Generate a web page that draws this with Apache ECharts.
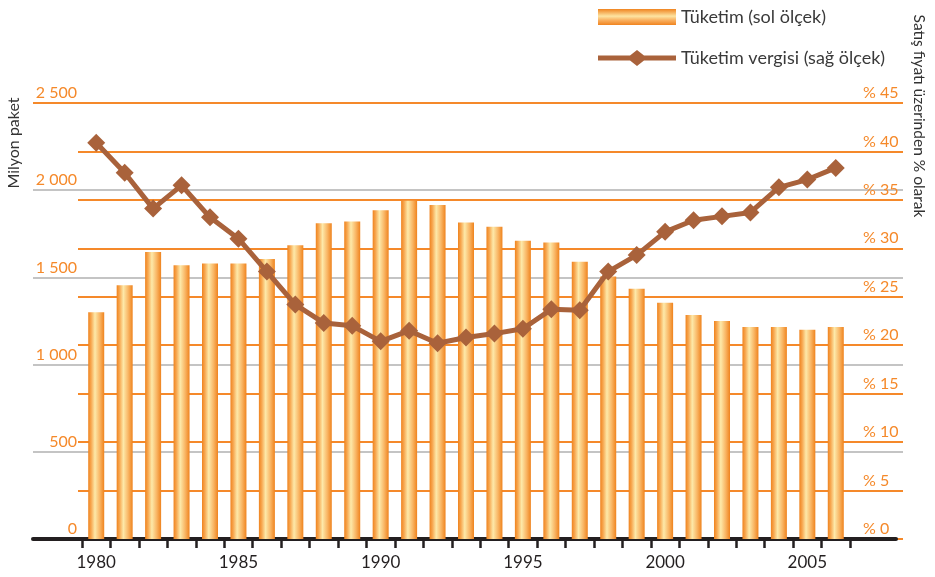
<!DOCTYPE html>
<html>
<head>
<meta charset="utf-8">
<script src="https://cdn.jsdelivr.net/npm/echarts@6/dist/echarts.min.js"></script>
<style>
  html, body { margin: 0; padding: 0; background: #fff; }
  #chart { width: 935px; height: 577px; }
</style>
</head>
<body>
<div id="chart"></div>
<script>
const years = ['1980', '1981', '1982', '1983', '1984', '1985', '1986', '1987', '1988', '1989',
  '1990', '1991', '1992', '1993', '1994', '1995', '1996', '1997', '1998', '1999',
  '2000', '2001', '2002', '2003', '2004', '2005', '2006'];
// million packs (left scale)
const consumption = [1300, 1455, 1645, 1570, 1580, 1580, 1605, 1685, 1810, 1820,
  1885, 1940, 1915, 1815, 1790, 1710, 1700, 1590, 1505, 1435,
  1355, 1285, 1250, 1215, 1215, 1200, 1215];
// % of retail price (right scale)
const taxShare = [40.9, 37.8, 34.1, 36.5, 33.2, 31.0, 27.6, 24.2, 22.3, 22.0,
  20.4, 21.5, 20.2, 20.8, 21.2, 21.7, 23.7, 23.6, 27.6, 29.3,
  31.7, 32.9, 33.3, 33.7, 36.3, 37.1, 38.3];
const leftScale = [0, 2500, 500];
const rightScale = [0, 45, 5];

const FONT = 'Lato';
const ORANGE = '#f5892a';
const GRAY = '#c4c4c4';
const BROWN = '#a9623b';

const gridTop = 103, gridBottom = 38;

let chart = echarts.init(document.getElementById('chart'), null, {renderer: 'canvas'});

const barColor = new echarts.graphic.LinearGradient(0, 0, 1, 0, [
  {offset: 0, color: '#ef831e'},
  {offset: 0.18, color: '#f7a750'},
  {offset: 0.42, color: '#fde9a9'},
  {offset: 0.72, color: '#f9b665'},
  {offset: 1, color: '#ef831e'}
]);
const legendBarColor = new echarts.graphic.LinearGradient(0, 0, 0, 1, [
  {offset: 0, color: '#f08420'},
  {offset: 0.45, color: '#fde4a2'},
  {offset: 0.7, color: '#f9b060'},
  {offset: 1, color: '#f08420'}
]);
// thick line with a diamond in the middle, 78 x 16
const lineIcon = 'path://M0,5.5 L32,5.5 L39,0 L46,5.5 L78,5.5 L78,10.5 L46,10.5 L39,16 L32,10.5 L0,10.5 Z';

function spaced(v) {
  return String(v).replace(/\B(?=(\d{3})+$)/, ' ');
}

let option = {
  animation: false,
  textStyle: {fontFamily: FONT},
  legend: {
    orient: 'vertical',
    left: 593,
    top: 3,
    itemWidth: 78,
    itemHeight: 16,
    itemGap: 23,
    textStyle: {fontSize: 18, color: '#3a3a3a', fontFamily: FONT},
    data: [
      {name: 'Tüketim (sol ölçek)', icon: 'rect', itemStyle: {color: legendBarColor}},
      {name: 'Tüketim vergisi (sağ ölçek)', icon: lineIcon, itemStyle: {color: BROWN}}
    ]
  },
  grid: [
    {left: 33, right: 32, top: gridTop, bottom: gridBottom},
    {left: 78, right: 32, top: gridTop, bottom: gridBottom},
    {left: 33, right: 39, top: gridTop, bottom: gridBottom},
    {left: 82, right: 85, top: gridTop, bottom: gridBottom}
  ],
  xAxis: [
    {gridIndex: 0, type: 'value', min: 0, max: 1, show: false},
    {gridIndex: 1, type: 'value', min: 0, max: 1, show: false},
    {
      gridIndex: 2, type: 'value', min: 0, max: 1,
      axisLine: {show: true, lineStyle: {color: '#231f20', width: 4}},
      axisTick: {show: false}, axisLabel: {show: false}, splitLine: {show: false}
    },
    {
      gridIndex: 3, type: 'category', data: years,
      axisLine: {show: false},
      axisTick: {show: true, interval: 0, length: 9, lineStyle: {color: '#231f20', width: 2.5}},
      axisLabel: {interval: 4, margin: 15, color: '#231f20', fontSize: 17, fontFamily: FONT}
    }
  ],
  yAxis: [
    {
      gridIndex: 0, type: 'value', position: 'left',
      min: leftScale[0], max: leftScale[1], interval: leftScale[2],
      axisLine: {show: false}, axisTick: {show: false},
      splitLine: {lineStyle: {color: [GRAY, GRAY, GRAY, GRAY, GRAY, ORANGE], width: 2}},
      axisLabel: {
        inside: true, margin: 44, align: 'right', verticalAlign: 'bottom',
        padding: [0, 0, 2, 0], color: ORANGE, fontSize: 16, fontFamily: FONT,
        formatter: spaced
      }
    },
    {
      gridIndex: 1, type: 'value', position: 'right',
      min: rightScale[0], max: rightScale[1], interval: rightScale[2],
      axisLine: {show: false}, axisTick: {show: false},
      splitLine: {lineStyle: {color: ORANGE, width: 2}},
      axisLabel: {
        inside: true, margin: 40, align: 'left', verticalAlign: 'bottom',
        padding: [0, 0, 2, 0], color: ORANGE, fontSize: 16, fontFamily: FONT,
        formatter: '% {value}'
      }
    },
    {gridIndex: 2, type: 'value', min: 0, max: 1, show: false},
    {gridIndex: 3, type: 'value', min: leftScale[0], max: leftScale[1], show: false},
    {gridIndex: 3, type: 'value', min: rightScale[0], max: rightScale[1], show: false}
  ],
  graphic: [
    {
      type: 'text', x: 14, y: 143, rotation: Math.PI / 2,
      style: {text: 'Milyon paket', fill: '#333', font: '16px ' + FONT, align: 'center', verticalAlign: 'middle'}
    },
    {
      type: 'text', x: 919, y: 116, rotation: -Math.PI / 2,
      style: {text: 'Satış fiyatı üzerinden % olarak', fill: '#333', font: '15.5px ' + FONT, align: 'center', verticalAlign: 'middle'}
    }
  ],
  series: [
    {
      name: 'Tüketim (sol ölçek)',
      type: 'bar',
      xAxisIndex: 3,
      yAxisIndex: 3,
      data: consumption,
      barWidth: 16,
      itemStyle: {color: barColor},
      z: 3
    },
    {
      name: 'Tüketim vergisi (sağ ölçek)',
      type: 'line',
      xAxisIndex: 3,
      yAxisIndex: 4,
      data: taxShare,
      symbol: 'diamond',
      symbolSize: 18,
      lineStyle: {color: BROWN, width: 5},
      itemStyle: {color: BROWN},
      z: 4
    }
  ]
};

chart.setOption(option);
window.addEventListener('resize', function () {
  chart.resize();
});
</script>
</body>
</html>
